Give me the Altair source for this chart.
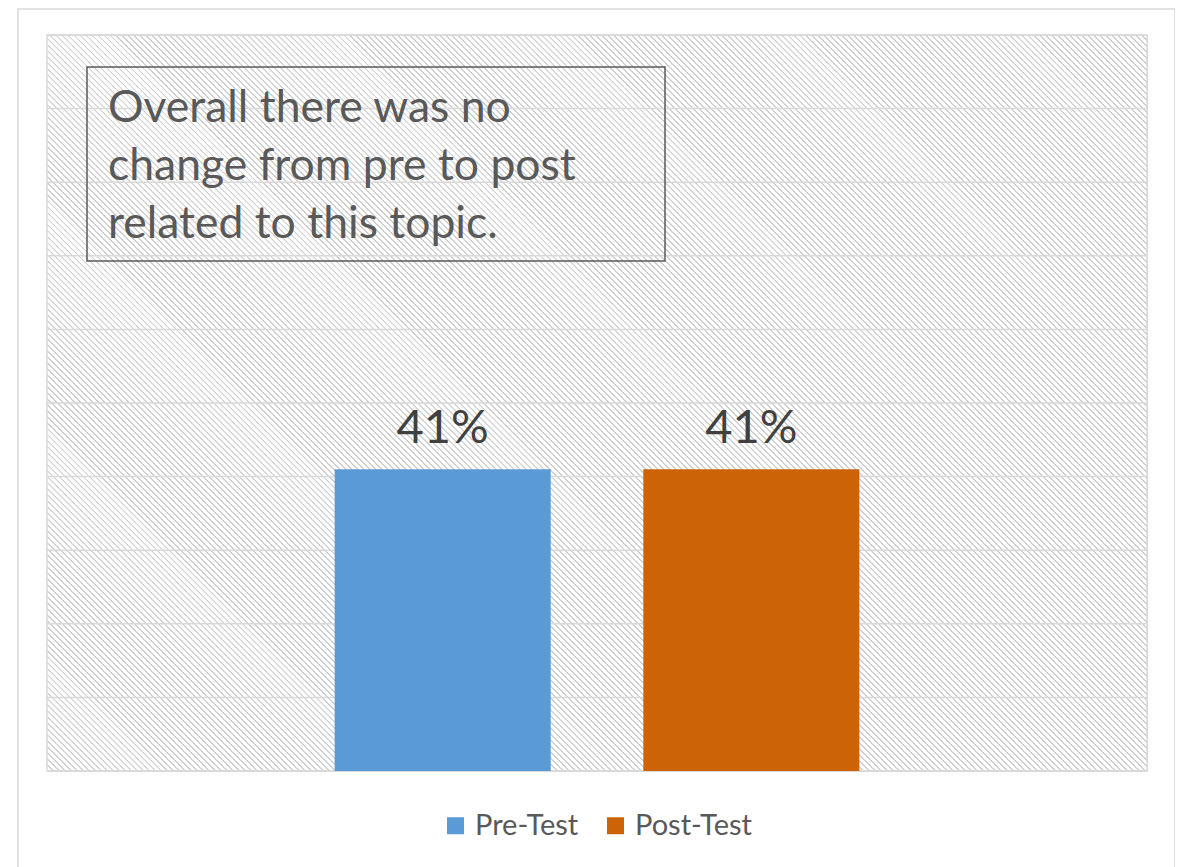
import altair as alt
import pandas as pd

# ---- data ----
series = ["Pre-Test", "Post-Test"]
values = [0.41, 0.41]
labels = ["41%", "41%"]
colors = ["#5B9BD5", "#CC6407"]
grid_ticks = [0.0, 0.1, 0.2, 0.3, 0.4, 0.5, 0.6, 0.7, 0.8, 0.9, 1.0]
note_lines = ["Overall there was no", "change from pre to post", "related to this topic."]

W, H = 1100, 736
FONT = "Lato"

df = pd.DataFrame({"series": series, "value": values, "label": labels})
grid_df = pd.DataFrame({"v": grid_ticks})
one = pd.DataFrame({"a": [0]})

# ---- hatch background (style only) ----
r = H / W
s = (1 + r) / (1 + r * r)
N = 306
f = 0.26
stops = []
for i in range(N):
    a = i / N
    b = (i + f) / N
    c = (i + 1) / N
    stops += [
        alt.GradientStop(color="#d0d0d0", offset=round(a, 6)),
        alt.GradientStop(color="#d0d0d0", offset=round(b, 6)),
        alt.GradientStop(color="#ffffff", offset=round(b + 1e-6, 6)),
        alt.GradientStop(color="#ffffff", offset=round(c - 1e-6, 6)),
    ]
grad = alt.LinearGradient(gradient="linear", stops=stops, x1=0, y1=1, x2=round(s, 5), y2=round(1 - s * r, 5))

bg = alt.Chart(one).mark_rect(fill=grad, stroke=None).encode(
    x=alt.value(0), x2=alt.value(W), y=alt.value(0), y2=alt.value(H)
)

yscale = alt.Scale(domain=[0, 1])

grid = alt.Chart(grid_df).mark_rule(color="#d9d9d9", strokeWidth=1.5).encode(
    y=alt.Y("v:Q", scale=yscale, axis=None),
    x=alt.value(0), x2=alt.value(W),
)

xscale = alt.Scale(domain=series, paddingInner=0.3, paddingOuter=0.932)

bars = alt.Chart(df).mark_bar().encode(
    x=alt.X("series:N", scale=xscale, axis=None, sort=series),
    y=alt.Y("value:Q", scale=yscale, axis=None),
    color=alt.Color(
        "series:N",
        scale=alt.Scale(domain=series, range=colors),
        sort=series,
        legend=alt.Legend(
            title=None, orient="none", legendX=394, legendY=776, direction="horizontal",
            symbolType="square", symbolSize=289, symbolStrokeWidth=0,
            labelFont=FONT, labelFontSize=29, labelColor="#595959",
            labelOffset=5, columnPadding=22,
        ),
    ),
)

text = alt.Chart(df).mark_text(
    font=FONT, fontSize=47, color="#404040", baseline="alphabetic", dy=-26
).encode(
    x=alt.X("series:N", scale=xscale, axis=None, sort=series),
    y=alt.Y("value:Q", scale=yscale, axis=None),
    text="label:N",
)

border = alt.Chart(one).mark_rect(fill=None, stroke="#d9d9d9", strokeWidth=1.5).encode(
    x=alt.value(0), x2=alt.value(W), y=alt.value(0), y2=alt.value(H)
)

note_box = alt.Chart(one).mark_rect(fill=None, stroke="#595959", strokeWidth=1.5).encode(
    x=alt.value(40), x2=alt.value(618), y=alt.value(32), y2=alt.value(226)
)

note = alt.Chart(one).mark_text(
    font=FONT, fontSize=44.5, color="#595959", align="left", baseline="alphabetic", lineHeight=58
).encode(x=alt.value(61), y=alt.value(87), text=alt.value(note_lines))

frame = alt.Chart(one).mark_rect(fill=None, stroke="#d9d9d9", strokeWidth=1.5, clip=False).encode(
    x=alt.value(-29), x2=alt.value(1128), y=alt.value(-26), y2=alt.value(850)
)

chart = alt.layer(frame, bg, grid, border, bars, text, note_box, note).properties(
    width=W, height=H,
    autosize=alt.AutoSizeParams(type="none"),
    padding={"left": 39, "top": 27, "right": 28, "bottom": 96},
).configure_view(strokeWidth=0).configure(background="white")

chart.save("out.html", embed_options={"renderer": "svg", "actions": False})
